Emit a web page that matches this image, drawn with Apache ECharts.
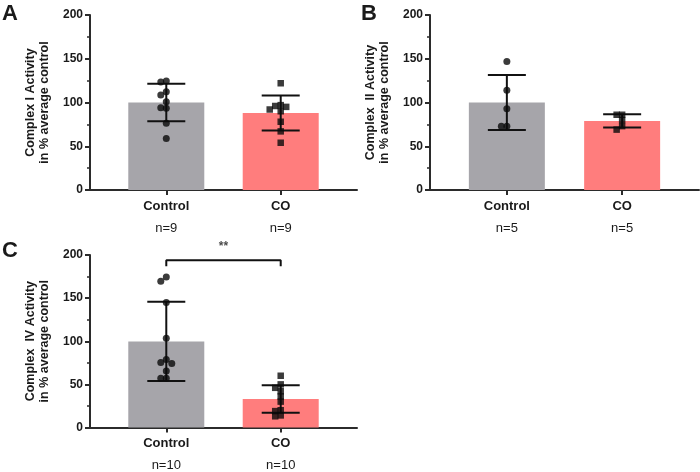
<!DOCTYPE html>
<html><head><meta charset="utf-8">
<script src="https://cdn.jsdelivr.net/npm/echarts@6/dist/echarts.min.js"></script>
<style>html,body{margin:0;padding:0;background:#fff}#c{width:700px;height:472px}</style>
</head><body><div id="c"></div>
<script>
const categories = ['Control', 'CO'];
const panelLetters = ['A', 'B', 'C'];
const yNames = ['Complex I Activity\nin % average control', 'Complex  II Activity\nin % average control', 'Complex  IV Activity\nin % average control'];
const nCounts = [['n=9', 'n=9'], ['n=5', 'n=5'], ['n=10', 'n=10']];
const yTicks = [0, 50, 100, 150, 200];

const meansA = [100, 88];
const sdA = [21.5, 20];
const pointsA_control = [124.6, 123.4, 112.4, 108.6, 101, 93.3, 94, 76.2, 59];
const pointsA_co = [122, 97, 96, 95, 92, 90, 78, 67, 54];

const meansB = [100, 79];
const sdB = [31.5, 7.6];
const pointsB_control = [147, 114, 93, 73, 73];
const pointsB_co = [86, 86, 80, 73, 69];

const meansC = [99.8, 33];
const sdC = [46, 16];
const pointsC_control = [174.5, 169.5, 144.8, 103.6, 78.9, 75.4, 74.3, 65.5, 57.1, 57.1];
const pointsC_co = [60, 50, 46, 42, 36, 30, 20, 19, 14, 13];

const sigLabel = '**';
const sigBracket = [187, 194]; // bracket tick bottom, bracket top (axis values)
const sigLabelValue = 210;

const catPos = [2, 5]; // positions of categories on x value axis (0..7)
const FONT = '"Liberation Sans", Arial, sans-serif';
const TXT = '#1a1a1a';
const COLORS = ['#a6a5aa', '#ff7d7d'];

const grids = [
  {left: 90, width: 267, top: 15, height: 175},
  {left: 430, width: 269, top: 15, height: 175},
  {left: 90, width: 267, top: 255, height: 175}
];

const panels = [
  {means: meansA, sd: sdA, pts: [pointsA_control, pointsA_co]},
  {means: meansB, sd: sdB, pts: [pointsB_control, pointsB_co]},
  {means: meansC, sd: sdC, pts: [pointsC_control, pointsC_co]}
];

function jitter(vals, pxPerUnit) {
  const placed = [];
  const cands = [0, -5.5, 5.5, -11, 11, -16, 16];
  return vals.map(v => {
    for (const o of cands) {
      if (placed.every(p => Math.abs(p.v - v) * pxPerUnit >= 4.5 || Math.abs(p.o - o) >= 5)) {
        placed.push({v, o}); return o;
      }
    }
    placed.push({v, o: 0}); return 0;
  });
}

const xAxes = [], yAxes = [], series = [], titles = [];
panels.forEach((p, i) => {
  xAxes.push({
    gridIndex: i, type: 'value', min: 0, max: 7,
    axisLine: {show: true, lineStyle: {color: '#2b2b2b', width: 2}},
    axisTick: {show: true, customValues: catPos, length: 5, lineStyle: {color: '#2b2b2b', width: 2}},
    axisLabel: {
      show: true, customValues: catPos, margin: 5,
      formatter: v => { const k = catPos.indexOf(v); return k < 0 ? '' : '{c|' + categories[k] + '}\n{n|' + nCounts[i][k] + '}'; },
      rich: {
        c: {fontFamily: FONT, fontSize: 13, fontWeight: 'bold', color: TXT, lineHeight: 22},
        n: {fontFamily: FONT, fontSize: 13, fontWeight: 'normal', color: TXT, lineHeight: 22}
      }
    },
    splitLine: {show: false}
  });
  yAxes.push({
    gridIndex: i, type: 'value', min: 0, max: 200, interval: 50,
    name: yNames[i], nameLocation: 'middle', nameGap: 38, nameRotate: 90,
    nameTextStyle: {fontFamily: FONT, fontSize: 12.5, fontWeight: 'bold', color: TXT, lineHeight: 14},
    axisLine: {show: true, lineStyle: {color: '#2b2b2b', width: 2}},
    axisTick: {show: true, length: 5, lineStyle: {color: '#2b2b2b', width: 2}},
    minorTick: {show: true, splitNumber: 2, length: 3, lineStyle: {color: '#2b2b2b', width: 1.5}},
    axisLabel: {fontFamily: FONT, fontSize: 12, fontWeight: 'bold', color: TXT, margin: 7,
      formatter: v => yTicks.includes(v) ? String(v) : ''},
    splitLine: {show: false}
  });
  titles.push({
    text: panelLetters[i], left: i === 1 ? 361 : 2, top: i === 2 ? 240 : 3, padding: 0,
    textStyle: {fontFamily: FONT, fontSize: 22, fontWeight: 'bold', color: TXT}
  });
  series.push({
    type: 'bar', xAxisIndex: i, yAxisIndex: i, barWidth: 76, silent: true,
    data: p.means.map((m, k) => ({value: [catPos[k], m], itemStyle: {color: COLORS[k]}}))
  });
  series.push({
    type: 'custom', xAxisIndex: i, yAxisIndex: i, silent: true, z: 3,
    data: p.means.map((m, k) => [catPos[k], m, p.sd[k]]),
    encode: {x: 0, y: 1},
    renderItem: (params, api) => {
      const x = api.value(0), m = api.value(1), s = api.value(2);
      const top = api.coord([x, m + s]), bot = api.coord([x, m - s]);
      const half = 19, st = {stroke: '#111', lineWidth: 2};
      return {type: 'group', children: [
        {type: 'line', shape: {x1: top[0], y1: top[1], x2: bot[0], y2: bot[1]}, style: st},
        {type: 'line', shape: {x1: top[0] - half, y1: top[1], x2: top[0] + half, y2: top[1]}, style: st},
        {type: 'line', shape: {x1: bot[0] - half, y1: bot[1], x2: bot[0] + half, y2: bot[1]}, style: st}
      ]};
    }
  });
  p.pts.forEach((vals, k) => {
    const offs = jitter(vals, 0.875);
    series.push({
      type: 'scatter', xAxisIndex: i, yAxisIndex: i, silent: true, z: 4,
      symbol: k === 0 ? 'circle' : 'rect', symbolSize: k === 0 ? 7 : 6.5,
      itemStyle: {color: '#0a0a0a'},
      data: vals.map((v, j) => ({value: [catPos[k], v], symbolOffset: [offs[j], 0]}))
    });
  });
});

// significance bracket in panel C
series.push({
  type: 'line', xAxisIndex: 2, yAxisIndex: 2, silent: true, clip: false, symbol: 'none',
  lineStyle: {color: '#111', width: 2},
  data: [[catPos[0], sigBracket[0]], [catPos[0], sigBracket[1]], [catPos[1], sigBracket[1]], [catPos[1], sigBracket[0]]]
});
series.push({
  type: 'scatter', xAxisIndex: 2, yAxisIndex: 2, silent: true, clip: false, symbolSize: 0,
  label: {show: true, position: 'inside', formatter: sigLabel, fontFamily: FONT, fontSize: 12, fontWeight: 'bold', color: TXT},
  data: [[(catPos[0] + catPos[1]) / 2, sigLabelValue]]
});

const chart = echarts.init(document.getElementById('c'), null, {renderer: 'canvas'});
chart.setOption({
  animation: false, backgroundColor: '#fff',
  title: titles, grid: grids, xAxis: xAxes, yAxis: yAxes, series
});
</script></body></html>
